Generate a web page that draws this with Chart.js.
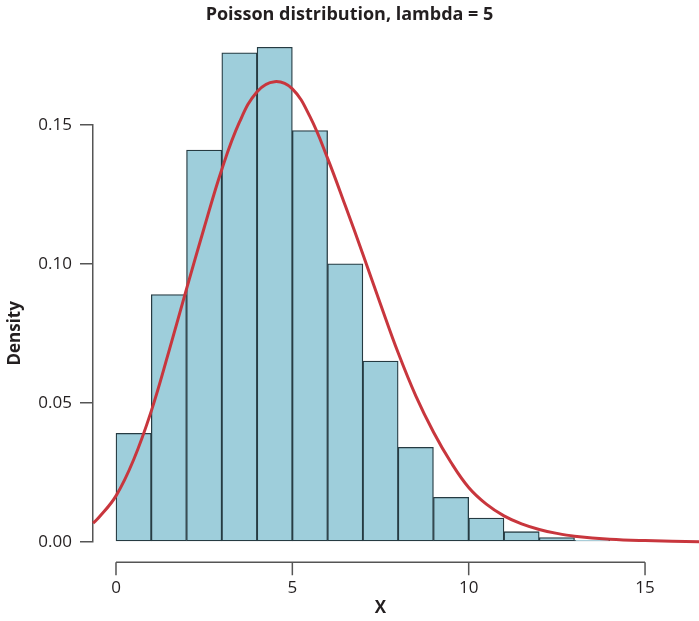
<!DOCTYPE html>
<html>
<head>
<meta charset="utf-8">
<script src="https://cdn.jsdelivr.net/npm/chart.js@4.4.0/dist/chart.umd.min.js"></script>
<style>
  body { margin: 0; background: #fff; }
  #wrap { width: 699px; height: 621px; position: relative; }
</style>
</head>
<body>
<div id="wrap"><canvas id="histChart"></canvas></div>
<script>
// histogram bins (centres) and their densities
const binMids = [0.5, 1.5, 2.5, 3.5, 4.5, 5.5, 6.5, 7.5, 8.5, 9.5, 10.5, 11.5, 12.5, 13.5];
const binDensity = [0.039, 0.089, 0.141, 0.176, 0.178, 0.148, 0.100, 0.065, 0.034, 0.016, 0.0085, 0.0036, 0.0015, 0.0005];

// red density curve
const curveX = [-0.65, -0.5, 0, 0.5, 1, 1.5, 2, 2.5, 3, 3.5, 4, 4.5, 5, 5.5, 6, 6.5, 7, 7.5, 8, 8.5, 9, 9.5, 10, 10.5, 11, 11.5, 12, 12.5, 13, 14, 15, 16.53];
const curveY = [0.0067, 0.0085, 0.0165, 0.0295, 0.047, 0.0685, 0.091, 0.113, 0.134, 0.151, 0.162, 0.1656, 0.163, 0.153, 0.138, 0.121, 0.1035, 0.0855, 0.068, 0.0525, 0.0395, 0.0285, 0.0195, 0.0135, 0.0093, 0.0064, 0.0044, 0.003, 0.002, 0.0009, 0.0004, 0.0];

const xTicks = [0, 5, 10, 15];
const yTicks = [0, 0.05, 0.10, 0.15];

const axisColor = "#555555";
const textColor = "#231f20";
const FONT = "'Open Sans', 'Noto Sans', sans-serif";

// R style detached x axis + the X title
const xAxisDraw = {
    id: "xAxisDraw",
    afterDraw(chart) {
        const ctx = chart.ctx;
        const area = chart.chartArea;
        const x = chart.scales.x;
        const y0 = area.bottom + 20.5;
        ctx.save();
        ctx.strokeStyle = axisColor;
        ctx.lineWidth = 1.5;
        ctx.beginPath();
        ctx.moveTo(x.getPixelForValue(xTicks[0]), y0);
        ctx.lineTo(x.getPixelForValue(xTicks[xTicks.length - 1]), y0);
        xTicks.forEach(v => {
            const px = x.getPixelForValue(v);
            ctx.moveTo(px, y0);
            ctx.lineTo(px, y0 + 13);
        });
        ctx.stroke();
        ctx.fillStyle = textColor;
        ctx.font = "bold 17px " + FONT;
        ctx.textAlign = "center";
        ctx.textBaseline = "middle";
        ctx.fillText("X", x.getPixelForValue(7.5), 608);
        ctx.restore();
    }
};

const CHART = document.getElementById("histChart");
let histChart = new Chart(CHART, {
    data: {
        datasets: [
            {
                type: "line",
                label: "density",
                data: curveX.map((v, i) => ({x: v, y: curveY[i]})),
                borderColor: "#c8363d",
                borderWidth: 3,
                pointRadius: 0,
                fill: false,
                tension: 0.4,
                clip: false,
                order: 1
            },
            {
                type: "bar",
                label: "hist",
                data: binMids.map((v, i) => ({x: v, y: binDensity[i]})),
                backgroundColor: "#9ecedb",
                borderColor: "#263b42",
                borderWidth: 1.3,
                borderSkipped: false,
                barPercentage: 1,
                categoryPercentage: 1,
                clip: false,
                order: 2
            }
        ]
    },
    options: {
        responsive: true,
        maintainAspectRatio: false,
        animation: false,
        layout: { padding: 0 },
        plugins: {
            legend: { display: false },
            tooltip: { enabled: false },
            title: {
                display: true,
                text: "Poisson distribution, lambda = 5",
                color: textColor,
                font: { family: FONT, size: 18, weight: "bold" },
                padding: { top: 4.2, bottom: 99.2 }
            }
        },
        scales: {
            x: {
                type: "linear",
                min: -0.652,
                max: 16.53,
                offset: false,
                grid: { display: false, drawTicks: false },
                border: { display: false },
                afterBuildTicks: s => { s.ticks = xTicks.map(v => ({value: v})); },
                afterFit: s => { s.height = 79.3; },
                ticks: {
                    color: textColor,
                    padding: 36,
                    maxRotation: 0,
                    font: { family: FONT, size: 17 }
                }
            },
            y: {
                min: 0,
                max: 0.15,
                grid: { drawOnChartArea: false, tickLength: 13, color: axisColor, lineWidth: 1.5 },
                border: { display: true, color: axisColor, width: 1.5 },
                afterBuildTicks: s => { s.ticks = yTicks.map(v => ({value: v})); },
                afterFit: s => { s.width = 93; },
                ticks: {
                    color: textColor,
                    padding: 8,
                    font: { family: FONT, size: 17 },
                    callback: v => v.toFixed(2)
                },
                title: {
                    display: true,
                    text: "Density",
                    color: textColor,
                    font: { family: FONT, size: 17, weight: "bold" },
                    padding: { top: 4.8, bottom: 0 }
                }
            }
        }
    },
    plugins: [xAxisDraw]
});
</script>
</body>
</html>
